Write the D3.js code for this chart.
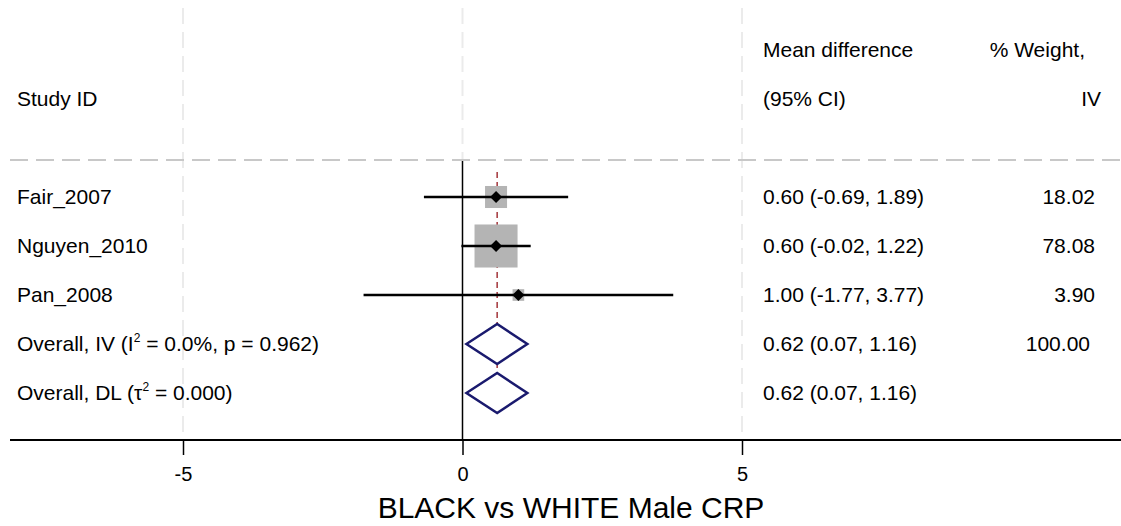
<!DOCTYPE html>
<html>
<head>
<meta charset="utf-8">
<script src="https://cdn.jsdelivr.net/npm/d3@7"></script>
<style>
  html, body { margin: 0; padding: 0; background: #fff; }
  svg text { font-family: "Liberation Sans", Arial, Helvetica, sans-serif; fill: #000; }
</style>
</head>
<body>
<div id="chart"></div>
<script>
// study rows
var studies = ["Fair_2007", "Nguyen_2010", "Pan_2008"];
var md      = [0.60, 0.60, 1.00];
var lo      = [-0.69, -0.02, -1.77];
var hi      = [1.89, 1.22, 3.77];
var weights = [18.02, 78.08, 3.90];

// pooled rows
var pooledNames = ["Overall, IV", "Overall, DL"];
var pooledMd    = [0.62, 0.62];
var pooledLo    = [0.07, 0.07];
var pooledHi    = [1.16, 1.16];
var pooledW     = ["100.00", ""];

var xTicks = [-5, 0, 5];
var xTitle = "BLACK vs WHITE Male CRP";

var width = 1121, height = 526;
var fs = 21;

var svg = d3.select("#chart").append("svg")
    .attr("width", width)
    .attr("height", height);

var x = d3.scaleLinear().domain([-5, 5]).range([183, 742]);

// row positions: 2 header rows, then the study rows, then pooled rows
var rowKeys = ["h1", "h2", "gap"].concat(studies).concat(pooledNames);
var y = d3.scalePoint().domain(rowKeys).range([50, 393]);

var plotTop = 8, plotBottom = 440, sepY = 160;

// plain hyphen minus, like the original
var f2 = v => d3.format(".2f")(v).replace("\u2212", "-");

// light gray dashed grid at -5 and 5
svg.selectAll("line.grid")
    .data([-5, 5])
    .enter().append("line")
    .attr("class", "grid")
    .attr("x1", d => x(d)).attr("x2", d => x(d))
    .attr("y1", plotTop).attr("y2", plotBottom)
    .attr("stroke", "#ebebeb")
    .attr("stroke-width", 2)
    .attr("stroke-dasharray", "16,8");

// null line: dashed gray above separator, solid black below
svg.append("line")
    .attr("x1", x(0)).attr("x2", x(0))
    .attr("y1", plotTop).attr("y2", sepY)
    .attr("stroke", "#ebebeb").attr("stroke-width", 2)
    .attr("stroke-dasharray", "16,8");
svg.append("line")
    .attr("x1", x(0)).attr("x2", x(0))
    .attr("y1", sepY).attr("y2", plotBottom)
    .attr("stroke", "#000").attr("stroke-width", 1.5);

// separator under the header
svg.append("line")
    .attr("x1", 10).attr("x2", width)
    .attr("y1", sepY).attr("y2", sepY)
    .attr("stroke", "#c8c8c8")
    .attr("stroke-width", 2)
    .attr("stroke-dasharray", "18,8");

// overall effect line
svg.append("line")
    .attr("x1", x(pooledMd[0])).attr("x2", x(pooledMd[0]))
    .attr("y1", 172).attr("y2", 402)
    .attr("stroke", "#a3343a")
    .attr("stroke-width", 1.5)
    .attr("stroke-dasharray", "6,4");

// weight boxes
var boxSize = w => 2.6 + 4.575 * Math.sqrt(w);
var rows = studies.map((s, i) => ({name: s, md: md[i], lo: lo[i], hi: hi[i], w: weights[i]}));

svg.selectAll("rect.box")
    .data(rows)
    .enter().append("rect")
    .attr("class", "box")
    .attr("x", d => x(d.md) - boxSize(d.w) / 2)
    .attr("y", d => y(d.name) - boxSize(d.w) / 2)
    .attr("width", d => boxSize(d.w))
    .attr("height", d => boxSize(d.w))
    .attr("fill", "#b4b4b4");

// CI lines
svg.selectAll("line.ci")
    .data(rows)
    .enter().append("line")
    .attr("class", "ci")
    .attr("x1", d => x(d.lo)).attr("x2", d => x(d.hi))
    .attr("y1", d => y(d.name)).attr("y2", d => y(d.name))
    .attr("stroke", "#000")
    .attr("stroke-width", 2.5);

// point estimates
svg.selectAll("path.pt")
    .data(rows)
    .enter().append("path")
    .attr("class", "pt")
    .attr("d", d => {
        var cx = x(d.md), cy = y(d.name), r = 6;
        return "M" + (cx - r) + "," + cy + "L" + cx + "," + (cy - r) +
               "L" + (cx + r) + "," + cy + "L" + cx + "," + (cy + r) + "Z";
    })
    .attr("fill", "#000");

// pooled diamonds
var pooled = pooledNames.map((s, i) => ({name: s, md: pooledMd[i], lo: pooledLo[i], hi: pooledHi[i], w: pooledW[i]}));
svg.selectAll("path.diamond")
    .data(pooled)
    .enter().append("path")
    .attr("class", "diamond")
    .attr("d", d => {
        var cy = y(d.name), h = 20;
        return "M" + x(d.lo) + "," + cy + "L" + x(d.md) + "," + (cy - h) +
               "L" + x(d.hi) + "," + cy + "L" + x(d.md) + "," + (cy + h) + "Z";
    })
    .attr("fill", "#fff")
    .attr("stroke", "#1a1a6e")
    .attr("stroke-width", 2.5);

// x axis
var axis = svg.append("g")
    .attr("transform", "translate(0," + plotBottom + ")")
    .call(d3.axisBottom(x).tickValues(xTicks).tickSize(15).tickPadding(12)
        .tickFormat(d => String(d)));
axis.select(".domain").remove();
axis.selectAll(".tick line").attr("stroke", "#000").attr("stroke-width", 1.5);
axis.selectAll(".tick text")
    .style("font-size", "20px")
    .style("font-family", "\"Liberation Sans\", Arial, sans-serif")
    .attr("fill", "#000");
svg.append("line")
    .attr("x1", 10).attr("x2", width)
    .attr("y1", plotBottom).attr("y2", plotBottom)
    .attr("stroke", "#000").attr("stroke-width", 2);

svg.append("text")
    .attr("x", 571)
    .attr("y", 518)
    .attr("text-anchor", "middle")
    .style("font-size", "30px")
    .text(xTitle);

// text columns
var base = 7;
function txt(xp, yp, s, anchor) {
    return svg.append("text")
        .attr("x", xp).attr("y", yp + base)
        .attr("text-anchor", anchor || "start")
        .style("font-size", fs + "px")
        .text(s);
}

txt(17, y("h2"), "Study ID");
txt(763, y("h1"), "Mean difference");
txt(763, y("h2"), "(95% CI)");
txt(1085, y("h1"), "% Weight,", "end");
txt(1101, y("h2"), "IV", "end");

rows.forEach(d => {
    txt(17, y(d.name), d.name);
    txt(763, y(d.name), f2(d.md) + " (" + f2(d.lo) + ", " + f2(d.hi) + ")");
    txt(1095, y(d.name), f2(d.w), "end");
});

// pooled labels with superscripts
var t1 = txt(17, y(pooledNames[0]), "");
t1.append("tspan").text("Overall, IV (I");
t1.append("tspan").attr("dy", -9).style("font-size", "12px").text("2");
t1.append("tspan").attr("dy", 9).text(" = 0.0%, p = 0.962)");

var t2 = txt(17, y(pooledNames[1]), "");
t2.append("tspan").text("Overall, DL (\u03C4");
t2.append("tspan").attr("dy", -9).style("font-size", "12px").text("2");
t2.append("tspan").attr("dy", 9).text(" = 0.000)");

pooled.forEach(d => {
    txt(763, y(d.name), f2(d.md) + " (" + f2(d.lo) + ", " + f2(d.hi) + ")");
    if (d.w) txt(1090, y(d.name), d.w, "end");
});
</script>
</body>
</html>
